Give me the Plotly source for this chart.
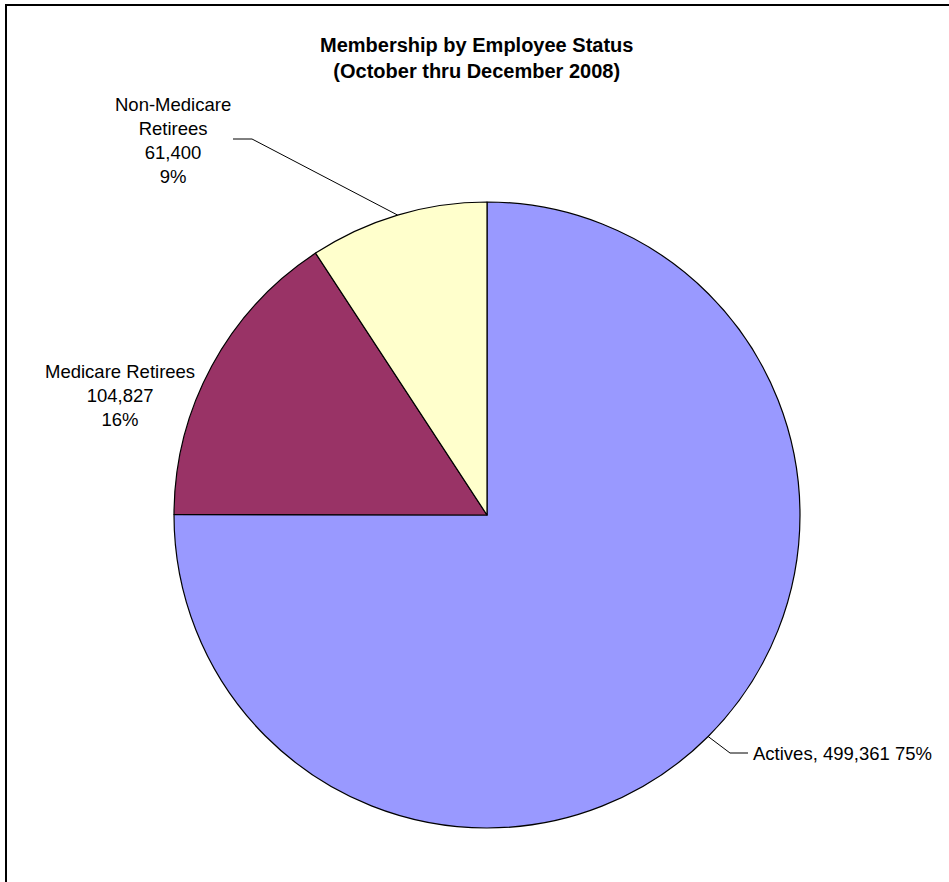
import math
import plotly.graph_objects as go

# ---- data ----
categories = ["Actives", "Medicare Retirees", "Non-Medicare Retirees"]
members = [499361, 104827, 61400]
percent_labels = ["75%", "16%", "9%"]
colors = ["#9999FF", "#993366", "#FFFFCC"]

W, H = 949, 882
cx, cy, R = 487, 515, 313  # pie center / radius in pixels


def px(x):
    return x / W


def py(y):
    return 1 - y / H


fig = go.Figure(go.Pie(
    labels=categories,
    values=members,
    sort=False,
    direction="clockwise",
    rotation=0,
    marker=dict(colors=colors, line=dict(color="black", width=1.2)),
    textinfo="none",
    hoverinfo="label+value+percent",
    domain=dict(x=[px(cx - R), px(cx + R)], y=[py(cy + R), py(cy - R)]),
    showlegend=False,
))

total = sum(members)
# mid-angle (degrees clockwise from 12 o'clock) of each slice
mids = []
acc = 0
for v in members:
    mids.append((acc + v / 2) / total * 360)
    acc += v


def edge(i):
    a = math.radians(mids[i])
    return cx + R * math.sin(a), cy - R * math.cos(a)


font = dict(family="Liberation Sans, Arial, sans-serif", size=18.5, color="black")
shapes = [
    dict(type="rect", xref="paper", yref="paper",
         x0=px(6), y0=-0.05, x1=1.05, y1=py(5),
         line=dict(color="black", width=2), fillcolor="rgba(0,0,0,0)")
]
annotations = []

# Actives label + leader
ex, ey = edge(0)
shapes.append(dict(type="path", xref="paper", yref="paper",
                   path=f"M {px(ex)} {py(ey)} L {px(730)} {py(753)} L {px(748)} {py(753)}",
                   line=dict(color="black", width=1)))
annotations.append(dict(x=px(751), y=py(753), xref="paper", yref="paper",
                        xanchor="left", yanchor="middle", showarrow=False, align="left",
                        text=f"{categories[0]}, {members[0]:,} {percent_labels[0]}", font=font))

# Medicare Retirees label
annotations.append(dict(x=px(120), y=py(395), xref="paper", yref="paper",
                        xanchor="center", yanchor="middle", showarrow=False, align="center",
                        text=f"{categories[1]}<br>{members[1]:,}<br>{percent_labels[1]}", font=font))

# Non-Medicare Retirees label + leader
ex, ey = edge(2)
shapes.append(dict(type="path", xref="paper", yref="paper",
                   path=f"M {px(ex)} {py(ey)} L {px(252)} {py(139)} L {px(233)} {py(139)}",
                   line=dict(color="black", width=1)))
annotations.append(dict(x=px(173), y=py(140), xref="paper", yref="paper",
                        xanchor="center", yanchor="middle", showarrow=False, align="center",
                        text="Non-Medicare<br>Retirees<br>" + f"{members[2]:,}<br>{percent_labels[2]}",
                        font=font))

# title
annotations.append(dict(x=px(476), y=py(58), xref="paper", yref="paper",
                        xanchor="center", yanchor="middle", showarrow=False, align="center",
                        text="<b>Membership by Employee Status</b><br><b>(October thru December 2008)</b>",
                        font=dict(family="Liberation Sans, Arial, sans-serif", size=20, color="black")))

fig.update_layout(
    width=W, height=H,
    margin=dict(l=0, r=0, t=0, b=0),
    paper_bgcolor="white",
    plot_bgcolor="white",
    shapes=shapes,
    annotations=annotations,
)

fig.write_html("out.html", config={"displayModeBar": False},
               post_script="document.body.style.margin='0px';")
